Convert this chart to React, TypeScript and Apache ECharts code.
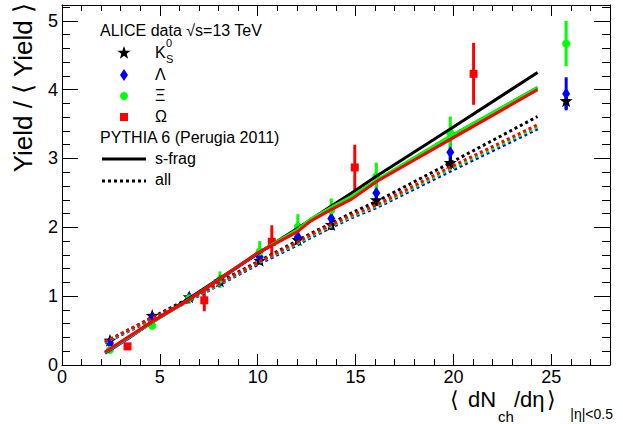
import React, { useEffect, useRef } from "react";
import * as echarts from "echarts";

// ALICE data: multiplicity classes (K0S, Lambda, Xi share the same x)
const multX = [2.45, 4.61, 6.5, 8.07, 10.1, 12.05, 13.76, 16.06, 19.84, 25.76];
const k0sY = [0.36, 0.72, 0.99, 1.22, 1.52, 1.82, 2.04, 2.4, 2.94, 3.84];
const k0sErr = [0.02, 0.03, 0.04, 0.05, 0.06, 0.07, 0.08, 0.09, 0.1, 0.12];
const lamY = [0.32, 0.69, 0.98, 1.22, 1.57, 1.86, 2.13, 2.5, 3.09, 3.94];
const lamErr = [0.03, 0.04, 0.05, 0.06, 0.08, 0.1, 0.12, 0.14, 0.2, 0.24];
const xiY = [0.22, 0.57, 0.97, 1.24, 1.65, 2.01, 2.25, 2.74, 3.37, 4.67];
const xiErr = [0.04, 0.05, 0.08, 0.12, 0.15, 0.18, 0.17, 0.2, 0.24, 0.33];
const omX = [3.35, 7.27, 10.72, 14.96, 21.03];
const omY = [0.27, 0.94, 1.79, 2.87, 4.23];
const omErr = [0.04, 0.16, 0.24, 0.33, 0.45];

// PYTHIA 6 (Perugia 2011) curves
const modelX = [2.2, 3.4, 4.6, 6.5, 8.0, 10.0, 12.0, 12.7, 13.7, 14.8, 16.1, 19.8, 24.3];
const sfragK0S = [0.18, 0.4, 0.62, 0.97, 1.25, 1.62, 1.98, 2.11, 2.3, 2.5, 2.75, 3.42, 4.25];
const sfragLam = [0.17, 0.39, 0.62, 0.95, 1.23, 1.62, 1.95, 2.1, 2.27, 2.44, 2.68, 3.31, 4.03];
const sfragXi = [0.18, 0.4, 0.62, 0.95, 1.24, 1.63, 1.96, 2.12, 2.28, 2.45, 2.69, 3.32, 4.03];
const sfragOm = [0.19, 0.41, 0.63, 0.95, 1.24, 1.63, 1.93, 2.09, 2.25, 2.41, 2.67, 3.27, 4.0];
const allK0S = [0.33, 0.51, 0.69, 0.97, 1.2, 1.5, 1.8, 1.91, 2.05, 2.21, 2.38, 2.93, 3.61];
const allLam = [0.32, 0.49, 0.66, 0.93, 1.16, 1.46, 1.74, 1.85, 1.99, 2.14, 2.29, 2.81, 3.43];
const allXi = [0.33, 0.5, 0.67, 0.94, 1.17, 1.48, 1.76, 1.87, 2.01, 2.16, 2.31, 2.84, 3.46];
const allOm = [0.34, 0.51, 0.68, 0.95, 1.18, 1.49, 1.78, 1.89, 2.03, 2.18, 2.33, 2.87, 3.49];

const xTicks = { min: 0, max: 28, major: 5, minor: 1 };
const yTicks = { min: 0, max: 5.23, major: 1, minor: 0.2 };

const BLACK = "#000000";
const BLUE = "#0000ff";
const GREEN = "#00ff00";
const RED = "#ff0000";
const FONT = "'Liberation Sans', Arial, Helvetica, sans-serif";

const STAR =
  "path://M0,-10L2.35,-3.24L9.51,-3.09L3.8,1.24L5.88,8.09L0,4L-5.88,8.09L-3.8,1.24L-9.51,-3.09L-2.35,-3.24Z";

function pairs(xs: number[], ys: number[]) {
  return xs.map((x, i) => [x, ys[i]]);
}
function triples(xs: number[], ys: number[], es: number[]) {
  return xs.map((x, i) => [x, ys[i], es[i]]);
}

function errSeries(xs: number[], ys: number[], es: number[], color: string) {
  return {
    type: "custom",
    data: triples(xs, ys, es),
    z: 2,
    silent: true,
    renderItem: (_p: any, api: any) => {
      const x = api.value(0);
      const y = api.value(1);
      const e = api.value(2);
      const a = api.coord([x, y - e]);
      const b = api.coord([x, y + e]);
      return {
        type: "line",
        shape: { x1: a[0], y1: a[1], x2: b[0], y2: b[1] },
        style: { stroke: color, lineWidth: 3 },
      };
    },
  };
}

function pointSeries(xs: number[], ys: number[], color: string, symbol: string, size: any) {
  return {
    type: "scatter",
    data: pairs(xs, ys),
    symbol,
    symbolSize: size,
    itemStyle: { color, opacity: 1 },
    z: 3,
    silent: true,
  };
}

function lineSeries(ys: number[], color: string, dotted: boolean, z: number) {
  return {
    type: "line",
    data: pairs(modelX, ys),
    showSymbol: false,
    symbol: "none",
    lineStyle: { color, width: 3, type: dotted ? [3, 3] : "solid" },
    z,
    silent: true,
  };
}

function starPoints(cx: number, cy: number, r: number) {
  const pts: number[][] = [];
  for (let i = 0; i < 10; i++) {
    const rr = i % 2 === 0 ? r : r * 0.4;
    const ang = -Math.PI / 2 + (i * Math.PI) / 5;
    pts.push([cx + rr * Math.cos(ang), cy + rr * Math.sin(ang)]);
  }
  return pts;
}

function xAxisDef(position: string, interval: number, tickLen: number, labels: boolean, line: boolean) {
  return {
    type: "value",
    position,
    min: xTicks.min,
    max: xTicks.max,
    interval,
    axisLine: { show: line, onZero: false, lineStyle: { color: BLACK, width: 1 } },
    axisTick: { show: true, inside: true, length: tickLen, lineStyle: { color: BLACK, width: 1 } },
    axisLabel: {
      show: labels,
      showMaxLabel: false,
      color: BLACK,
      fontSize: 18,
      fontFamily: FONT,
      margin: 3,
      lineHeight: 18,
    },
    splitLine: { show: false },
  };
}

function yAxisDef(position: string, interval: number, tickLen: number, labels: boolean, line: boolean) {
  return {
    type: "value",
    position,
    min: yTicks.min,
    max: yTicks.max,
    interval,
    axisLine: { show: line, onZero: false, lineStyle: { color: BLACK, width: 1 } },
    axisTick: { show: true, inside: true, length: tickLen, lineStyle: { color: BLACK, width: 1 } },
    axisLabel: {
      show: labels,
      showMaxLabel: false,
      color: BLACK,
      fontSize: 18,
      fontFamily: FONT,
      margin: 4,
    },
    splitLine: { show: false },
  };
}

function txt(x: number, y: number, text: string, size: number, align = "left", extra: any = {}) {
  return {
    type: "text",
    x,
    y,
    silent: true,
    style: {
      text,
      fill: BLACK,
      fontSize: size,
      fontFamily: FONT,
      textAlign: align,
      textVerticalAlign: "middle",
      lineHeight: Math.round(size * 0.9),
    },
    ...extra,
  };
}

export default function App() {
  const ref = useRef<HTMLDivElement>(null);

  useEffect(() => {
    document.body.style.margin = "0";
    if (!ref.current) return;
    const chart = echarts.init(ref.current, undefined, { renderer: "svg" });

    const lx = 124;
    const graphic: any[] = [
      // y-axis title
      txt(23, 3, "Yield / \u27E8 Yield \u27E9", 26, "right", { rotation: Math.PI / 2 }),
      // x-axis title
      txt(450, 399, "\u27E8", 22),
      txt(468, 399, "dN", 22),
      txt(498, 416, "ch", 15),
      txt(514, 399, "/d\u03B7", 22),
      txt(547, 399, "\u27E9", 22),
      txt(613, 414, "|\u03B7|<0.5", 14, "right"),
      // legend
      txt(100, 30, "ALICE data \u221As=13 TeV", 16),
      {
        type: "polygon",
        silent: true,
        shape: { points: starPoints(lx, 53, 7) },
        style: { fill: BLACK },
      },
      txt(155, 52, "K", 16),
      txt(166, 43, "0", 11),
      txt(166, 59, "S", 11),
      {
        type: "polygon",
        silent: true,
        shape: { points: [[lx, 69], [lx + 4, 75], [lx, 81], [lx - 4, 75]] },
        style: { fill: BLUE },
      },
      txt(155, 74, "\u039B", 16),
      { type: "circle", silent: true, shape: { cx: lx, cy: 96, r: 4 }, style: { fill: GREEN } },
      txt(155, 95, "\u039E", 16),
      { type: "rect", silent: true, shape: { x: lx - 4, y: 113, width: 8, height: 8 }, style: { fill: RED } },
      txt(155, 116, "\u03A9", 16),
      txt(100, 137, "PYTHIA 6 (Perugia 2011)", 16),
      {
        type: "line",
        silent: true,
        shape: { x1: 102, y1: 159, x2: 146, y2: 159 },
        style: { stroke: BLACK, lineWidth: 3 },
      },
      txt(155, 158, "s-frag", 16),
      {
        type: "line",
        silent: true,
        shape: { x1: 102, y1: 181, x2: 146, y2: 181 },
        style: { stroke: BLACK, lineWidth: 3, lineDash: [3, 3] },
      },
      txt(155, 179, "all", 16),
    ];

    chart.setOption({
      animation: false,
      backgroundColor: "#ffffff",
      textStyle: { fontFamily: FONT },
      grid: { left: 62, right: 13, top: 5, bottom: 59, containLabel: false },
      xAxis: [
        xAxisDef("bottom", xTicks.major, 11, true, true),
        xAxisDef("bottom", xTicks.minor, 6, false, false),
        xAxisDef("top", xTicks.major, 11, false, true),
        xAxisDef("top", xTicks.minor, 6, false, false),
      ],
      yAxis: [
        yAxisDef("left", yTicks.major, 16, true, true),
        yAxisDef("left", yTicks.minor, 8, false, false),
        yAxisDef("right", yTicks.major, 16, false, true),
        yAxisDef("right", yTicks.minor, 8, false, false),
      ],
      graphic,
      series: [
        errSeries(multX, k0sY, k0sErr, BLACK),
        errSeries(multX, lamY, lamErr, BLUE),
        errSeries(multX, xiY, xiErr, GREEN),
        errSeries(omX, omY, omErr, RED),
        pointSeries(multX, k0sY, BLACK, STAR, 13),
        pointSeries(multX, lamY, BLUE, "diamond", [8, 12]),
        pointSeries(multX, xiY, GREEN, "circle", 8),
        pointSeries(omX, omY, RED, "rect", 8),
        lineSeries(allK0S, BLACK, true, 5),
        lineSeries(allLam, BLUE, true, 5),
        lineSeries(allXi, GREEN, true, 5),
        lineSeries(allOm, RED, true, 5),
        lineSeries(sfragK0S, BLACK, false, 6),
        lineSeries(sfragLam, BLUE, false, 6),
        lineSeries(sfragXi, GREEN, false, 6),
        lineSeries(sfragOm, RED, false, 6),
      ],
    });

    return () => {
      chart.dispose();
    };
  }, []);

  return <div ref={ref} style={{ width: 623, height: 424 }} />;
}
